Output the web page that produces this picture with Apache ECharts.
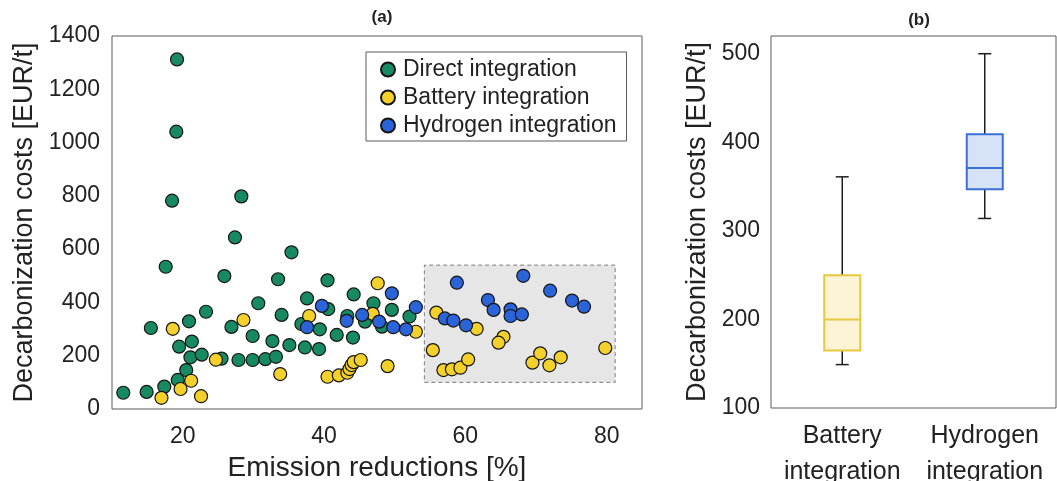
<!DOCTYPE html>
<html>
<head>
<meta charset="utf-8">
<script src="https://cdn.jsdelivr.net/npm/echarts@6/dist/echarts.min.js"></script>
<style>
  html, body { margin: 0; padding: 0; background: #fff; }
  #chart { width: 1057px; height: 481px; }
</style>
</head>
<body>
<div id="chart"></div>
<script>
// Panel (a): emission reductions [%] vs. decarbonization costs [EUR/t]
const directData = [
  [19.2, 1312], [19.1, 1041], [18.5, 782], [28.3, 798], [27.4, 644], [35.4, 588],
  [17.6, 534], [25.9, 499], [33.5, 487], [40.5, 483], [37.6, 415], [44.2, 430],
  [30.7, 397], [40.6, 375], [23.3, 365], [47.0, 397], [43.3, 349], [45.8, 328],
  [36.8, 319], [39.4, 299], [34.0, 353], [26.9, 308], [20.9, 329], [15.5, 304],
  [29.9, 274], [32.7, 255], [35.1, 240], [37.3, 231], [39.3, 225], [41.8, 278],
  [44.1, 268], [21.3, 253], [19.5, 234], [21.1, 194], [22.7, 204], [25.5, 189],
  [27.9, 184], [29.9, 184], [31.7, 187], [33.2, 196], [20.5, 146], [19.3, 109],
  [17.4, 84], [14.9, 64], [11.6, 61], [49.6, 372], [52.1, 347], [48.2, 309]
];
const batteryData = [
  [47.6, 472], [46.9, 357], [37.9, 349], [28.6, 334], [18.6, 301], [24.7, 185],
  [33.8, 131], [40.5, 121], [42.1, 126], [43.3, 136], [43.6, 150], [43.9, 165],
  [44.2, 176], [45.2, 184], [21.2, 106], [19.7, 75], [17.0, 42], [22.6, 48],
  [53.0, 290], [49.0, 161],
  [55.9, 362], [61.6, 301], [65.4, 271], [64.7, 249], [55.4, 221], [56.9, 146],
  [58.1, 149], [59.3, 155], [60.4, 186], [69.5, 174], [70.6, 209], [71.9, 164],
  [73.5, 194], [79.8, 229]
];
const hydrogenData = [
  [39.7, 387], [45.4, 353], [43.2, 331], [37.6, 307], [49.6, 434], [47.8, 328],
  [49.8, 307], [51.6, 299], [53.0, 382],
  [58.8, 474], [68.2, 500], [72.0, 444], [75.1, 407], [76.8, 384], [63.2, 409],
  [64.0, 372], [66.4, 374], [66.4, 349], [68.0, 355], [57.1, 340], [58.3, 332],
  [60.1, 314]
];
// Highlighted high-reduction region: [x0, y0], [x1, y1]
const focusRegion = [[54.2, 100], [81.2, 540]];

// Panel (b): box statistics [min, Q1, median, Q3, max]
const boxCategories = ['Battery\nintegration', 'Hydrogen\nintegration'];
const boxStats = [
  [149, 165, 200, 250, 361],
  [314, 347, 371, 409, 500]
];

const seriesNames = ['Direct integration', 'Battery integration', 'Hydrogen integration'];
const seriesColors = ['#178a62', '#f4d02a', '#2b63d8'];
const boxEdge = ['#e8c83c', '#3d70d6'];
const boxFill = ['#fcf4d4', '#d6e2f7'];

const FONT = 'Liberation Sans, Arial, Helvetica, sans-serif';
const TXT = '#222';

const chart = echarts.init(document.getElementById('chart'), null, { renderer: 'canvas' });

function scatterSeries(name, data, color) {
  return {
    name: name,
    type: 'scatter',
    xAxisIndex: 0,
    yAxisIndex: 0,
    data: data,
    symbol: 'circle',
    symbolSize: 13,
    itemStyle: { color: color, borderColor: '#151515', borderWidth: 1.2, opacity: 1 },
    emphasis: { disabled: true },
    z: 3
  };
}

function renderBox(params, api) {
  const idx = api.value(0);
  const lo = api.coord([idx, api.value(1)]);
  const q1 = api.coord([idx, api.value(2)]);
  const med = api.coord([idx, api.value(3)]);
  const q3 = api.coord([idx, api.value(4)]);
  const hi = api.coord([idx, api.value(5)]);
  const cx = lo[0];
  const hw = 18;
  const cap = 6.5;
  const whisker = { stroke: '#1e1e1e', lineWidth: 1.5 };
  return {
    type: 'group',
    children: [
      { type: 'line', shape: { x1: cx, y1: hi[1], x2: cx, y2: q3[1] }, style: whisker },
      { type: 'line', shape: { x1: cx, y1: q1[1], x2: cx, y2: lo[1] }, style: whisker },
      { type: 'line', shape: { x1: cx - cap, y1: hi[1], x2: cx + cap, y2: hi[1] }, style: whisker },
      { type: 'line', shape: { x1: cx - cap, y1: lo[1], x2: cx + cap, y2: lo[1] }, style: whisker },
      { type: 'rect', shape: { x: cx - hw, y: q3[1], width: 2 * hw, height: q1[1] - q3[1] },
        style: { fill: boxFill[idx], stroke: boxEdge[idx], lineWidth: 2 } },
      { type: 'line', shape: { x1: cx - hw, y1: med[1], x2: cx + hw, y2: med[1] },
        style: { stroke: boxEdge[idx], lineWidth: 2 } }
    ]
  };
}

const option = {
  backgroundColor: '#ffffff',
  animation: false,
  textStyle: { fontFamily: FONT, color: TXT },
  title: [
    { text: '(a)', left: 377, top: 4, textAlign: 'center',
      textStyle: { fontFamily: FONT, fontSize: 17, fontWeight: 'bold', color: TXT } },
    { text: '(b)', left: 914, top: 7, textAlign: 'center',
      textStyle: { fontFamily: FONT, fontSize: 17, fontWeight: 'bold', color: TXT } }
  ],
  legend: {
    data: seriesNames,
    orient: 'vertical',
    left: 366,
    top: 52,
    width: 260,
    padding: [6, 10, 4, 14],
    itemGap: 5,
    itemWidth: 14,
    itemHeight: 14,
    icon: 'circle',
    backgroundColor: '#ffffff',
    borderColor: '#5a5a5a',
    borderWidth: 1,
    textStyle: { fontFamily: FONT, fontSize: 23, color: TXT, lineHeight: 23, padding: [0, 0, 0, 3] },
    selectedMode: false
  },
  grid: [
    { left: 112, top: 36, width: 530, height: 373, show: true, borderColor: '#5a5a5a', borderWidth: 1,
      backgroundColor: 'transparent', containLabel: false, outerBoundsMode: 'none' },
    { left: 771, top: 36, width: 285, height: 372, show: true, borderColor: '#5a5a5a', borderWidth: 1,
      backgroundColor: 'transparent', containLabel: false, outerBoundsMode: 'none' }
  ],
  xAxis: [
    {
      type: 'value', gridIndex: 0, min: 10, max: 85, interval: 10,
      name: 'Emission reductions [%]', nameLocation: 'middle', nameGap: 45,
      nameTextStyle: { fontFamily: FONT, fontSize: 28, color: TXT },
      axisLine: { show: false }, axisTick: { show: false }, splitLine: { show: false },
      axisLabel: {
        fontFamily: FONT, fontSize: 23, color: TXT, margin: 16,
        showMinLabel: false, showMaxLabel: false,
        formatter: v => (v % 20 === 0 ? String(v) : '')
      }
    },
    {
      type: 'category', gridIndex: 1, data: boxCategories, boundaryGap: true,
      axisLine: { show: false }, axisTick: { show: false }, splitLine: { show: false },
      axisLabel: { fontFamily: FONT, fontSize: 25, color: TXT, margin: 10, lineHeight: 36, interval: 0 }
    }
  ],
  yAxis: [
    {
      type: 'value', gridIndex: 0, min: 0, max: 1400, interval: 200,
      name: 'Decarbonization costs [EUR/t]', nameLocation: 'middle', nameGap: 68,
      nameTextStyle: { fontFamily: FONT, fontSize: 27, color: TXT },
      axisLine: { show: false }, axisTick: { show: false }, splitLine: { show: false },
      axisLabel: { fontFamily: FONT, fontSize: 23, color: TXT, margin: 12, formatter: v => String(v) }
    },
    {
      type: 'value', gridIndex: 1, min: 100, max: 520, interval: 100,
      name: 'Decarbonization costs [EUR/t]', nameLocation: 'middle', nameGap: 60,
      nameTextStyle: { fontFamily: FONT, fontSize: 27, color: TXT },
      axisLine: { show: false }, axisTick: { show: false }, splitLine: { show: false },
      axisLabel: { fontFamily: FONT, fontSize: 23, color: TXT, margin: 11, showMaxLabel: false, formatter: v => String(v) }
    }
  ],
  series: [
    {
      name: 'focus-region',
      type: 'scatter',
      xAxisIndex: 0,
      yAxisIndex: 0,
      data: [],
      silent: true,
      z: 1,
      markArea: {
        silent: true,
        itemStyle: { color: '#e6e6e6', borderColor: '#7a7a7a', borderWidth: 1, borderType: [4, 3] },
        data: [[{ coord: focusRegion[0] }, { coord: focusRegion[1] }]]
      }
    },
    scatterSeries(seriesNames[0], directData, seriesColors[0]),
    scatterSeries(seriesNames[1], batteryData, seriesColors[1]),
    scatterSeries(seriesNames[2], hydrogenData, seriesColors[2]),
    {
      name: 'box',
      type: 'custom',
      xAxisIndex: 1,
      yAxisIndex: 1,
      renderItem: renderBox,
      encode: { x: 0, y: [1, 2, 3, 4, 5] },
      data: boxStats.map((s, i) => [i].concat(s)),
      silent: true,
      z: 3
    }
  ]
};

chart.setOption(option);
</script>
</body>
</html>
